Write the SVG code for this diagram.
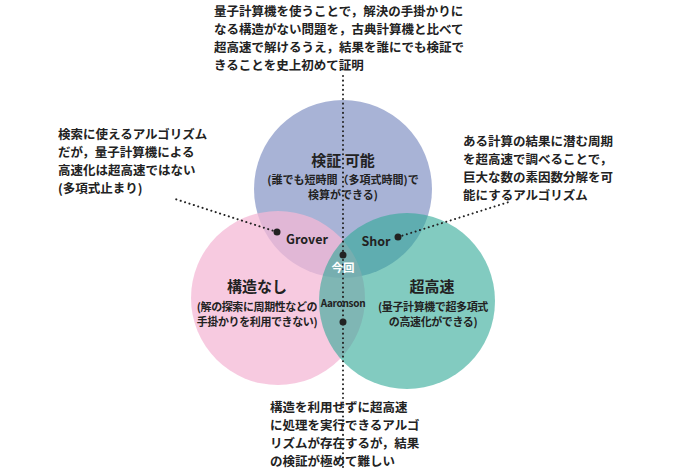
<svg xmlns="http://www.w3.org/2000/svg" width="685" height="476" viewBox="0 0 685 476">
<style>
text{font-family:"Noto Sans CJK JP","Noto Sans",sans-serif;font-weight:bold;fill:#222}
.n{font-size:12.5px}
.t{font-size:15px}
.s{font-size:11px}
.w{fill:#fff;font-size:11.5px}
.d{stroke:#222;stroke-width:2;stroke-dasharray:0.1 4.5;stroke-linecap:round;fill:none}
</style>
<rect width="685" height="476" fill="#fff"/>
<g id="circles">
<circle id="top" cx="343" cy="189" r="89" fill="#a8b3d6"/>
<circle id="pink" cx="278" cy="298" r="87" fill="#f4b8d6" fill-opacity="0.75"/>
<circle id="teal" cx="407" cy="301" r="88" fill="#2fa896" fill-opacity="0.6"/>
</g>
<g id="connectors">
<line class="d" x1="343" y1="76" x2="343" y2="470"/>
<line class="d" x1="277" y1="232" x2="172" y2="198"/>
<line class="d" x1="398" y1="237" x2="512" y2="201"/>
<circle cx="343" cy="255" r="3.5" fill="#222"/>
<circle cx="343" cy="322" r="3.5" fill="#222"/>
<circle cx="277" cy="232" r="3.5" fill="#222"/>
<circle cx="398" cy="237" r="3.5" fill="#222"/>
</g>
<g id="labels">
<text class="t" x="343" y="166" text-anchor="middle">検証 可能</text>
<text class="s" x="343" y="184" text-anchor="middle">(誰でも短時間（多項式時間)で</text>
<text class="s" x="343" y="199" text-anchor="middle">検算ができる)</text>
<text class="n" x="307" y="244" text-anchor="middle">Grover</text>
<text class="n" x="376" y="246" text-anchor="middle">Shor</text>
<text class="w" x="343" y="272" text-anchor="middle">今回</text>
<text class="t" x="257" y="292" text-anchor="middle">構造なし</text>
<text class="s" x="257" y="311" text-anchor="middle" letter-spacing="-0.4">(解の探索に周期性などの</text>
<text class="s" x="257" y="326" text-anchor="middle" letter-spacing="-0.4">手掛かりを利用できない)</text>
<text x="343" y="307" text-anchor="middle" style="font-size:10px" letter-spacing="-0.3">Aaronson</text>
<text class="t" x="432" y="292" text-anchor="middle">超高速</text>
<text class="s" x="433" y="311" text-anchor="middle" letter-spacing="-0.4">(量子計算機で超多項式</text>
<text class="s" x="433" y="326" text-anchor="middle" letter-spacing="-0.4">の高速化ができる)</text>
</g>
<g id="notes" class="n">
<text x="214" y="16">量子計算機を使うことで，解決の手掛かりに</text>
<text x="214" y="34">なる構造がない問題を，古典計算機と比べて</text>
<text x="214" y="52">超高速で解けるうえ，結果を誰にでも検証で</text>
<text x="214" y="70">きることを史上初めて証明</text>
<text x="58" y="139">検索に使えるアルゴリズム</text>
<text x="58" y="157">だが，量子計算機による</text>
<text x="58" y="175">高速化は超高速ではない</text>
<text x="58" y="193">(多項式止まり)</text>
<text x="463" y="146">ある計算の結果に潜む周期</text>
<text x="463" y="164">を超高速で調べることで，</text>
<text x="463" y="182">巨大な数の素因数分解を可</text>
<text x="463" y="200">能にするアルゴリズム</text>
<text x="270" y="412">構造を利用せずに超高速</text>
<text x="270" y="430">に処理を実行できるアルゴ</text>
<text x="270" y="448">リズムが存在するが，結果</text>
<text x="270" y="466">の検証が極めて難しい</text>
</g>
</svg>
